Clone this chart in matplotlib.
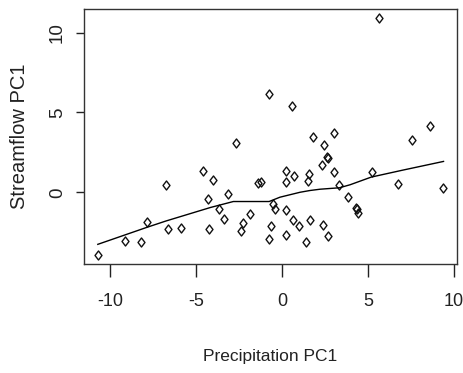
import matplotlib
matplotlib.use("Agg")
import matplotlib.pyplot as plt
from matplotlib.path import Path
import numpy as np

# Scatter data
precip_pc1 = [-10.71, -9.15, -8.22, -7.84, -6.77, -6.65, -5.86, -4.61, -4.04, -4.29,
              -4.23, -3.67, -3.35, -3.17, -2.67, -2.29, -2.36, -1.84, -1.40, -1.24,
              -0.77, -0.55, -0.42, -0.66, -0.73, 0.21, 0.21, 0.72, 0.26, 0.64,
              0.97, 0.24, 0.58, 1.63, 1.38, 2.38, 2.69, 1.59, 1.52, 1.83,
              2.45, 2.60, 2.66, 2.34, 3.00, 3.00, 3.34, 3.83, 4.33, 4.38,
              4.44, 5.25, 5.61, 6.75, 7.57, 8.62, 9.37]
stream_pc1 = [-3.90, -3.03, -3.11, -1.84, 0.44, -2.30, -2.21, 1.33, 0.78, -0.40,
              -2.30, -1.05, -1.67, -0.10, 3.07, -1.92, -2.40, -1.38, 0.61, 0.67,
              6.15, -0.73, -1.07, -2.13, -2.94, 1.32, 0.67, 0.99, -1.12, -1.73,
              -2.11, -2.66, 5.42, -1.75, -3.10, -2.03, -2.75, 1.16, 0.68, 3.44,
              2.97, 2.18, 2.14, 1.69, 3.70, 1.24, 0.46, -0.31, -0.98, -1.03,
              -1.31, 1.24, 10.88, 0.53, 3.24, 4.14, 0.24]

# Smoothed (lowess) curve vertices
smooth_x = [-10.71, -7.84, -6.75, -4.15, -2.83, -0.75, -0.12, 1.05, 1.63, 2.21,
            3.34, 3.96, 5.19, 7.00, 9.39]
smooth_y = [-3.26, -2.19, -1.80, -0.95, -0.58, -0.58, -0.31, 0.00, 0.11, 0.19,
            0.28, 0.47, 0.95, 1.38, 1.93]

x_ticks = [-10, -5, 0, 5, 10]
y_ticks = [0, 5, 10]

W, H = 464, 373
fig = plt.figure(figsize=(W / 100, H / 100), dpi=100)
ax = fig.add_axes([84 / W, 1 - 264 / H, (457 - 84) / W, (264 - 9) / H])

diamond = Path([(0, 1), (0.77, 0), (0, -1), (-0.77, 0), (0, 1)],
               [Path.MOVETO, Path.LINETO, Path.LINETO, Path.LINETO, Path.CLOSEPOLY])

ax.plot(precip_pc1, stream_pc1, linestyle="none", marker=diamond, markersize=6.5,
        markerfacecolor="none", markeredgecolor="#111111", markeredgewidth=1.0)
ax.plot(smooth_x, smooth_y, color="black", linewidth=1.0)

# R-style 4% padding
xmin, xmax = min(precip_pc1), max(precip_pc1)
ymin, ymax = min(stream_pc1), max(stream_pc1)
dx, dy = 0.04 * (xmax - xmin), 0.04 * (ymax - ymin)
ax.set_xlim(xmin - dx, xmax + dx)
ax.set_ylim(ymin - dy, ymax + dy)

ax.set_xticks(x_ticks)
ax.set_yticks(y_ticks)
ax.set_xticklabels([str(t) for t in x_ticks])
ax.set_yticklabels([str(t) for t in y_ticks])

regular = ["Liberation Sans", "DejaVu Sans"]

for lab in ax.get_xticklabels():
    lab.set_family(regular)
    lab.set_fontsize(13)
    lab.set_color("#222222")
for lab in ax.get_yticklabels():
    lab.set_family(regular)
    lab.set_fontsize(13.5)
    lab.set_rotation(90)
    lab.set_va("center")
    lab.set_color("#222222")

ax.tick_params(axis="x", length=9, width=1, pad=12, color="#222222")
ax.tick_params(axis="y", length=6, width=1, pad=7, color="#222222")

for s in ax.spines.values():
    s.set_linewidth(1.0)
    s.set_color("#333333")

ax.set_xlabel("Precipitation PC1", family=regular, fontsize=12.5, color="#222222")
ax.set_ylabel("Streamflow PC1", family=regular, fontsize=14.5, color="#222222")
ax.xaxis.set_label_coords(0.5, (264 - 357) / 255)
ax.yaxis.set_label_coords((20 - 84) / 373, 0.5)
ax.xaxis.label.set_va("center")
ax.yaxis.label.set_va("center")

fig.savefig("out.png", dpi=100)
